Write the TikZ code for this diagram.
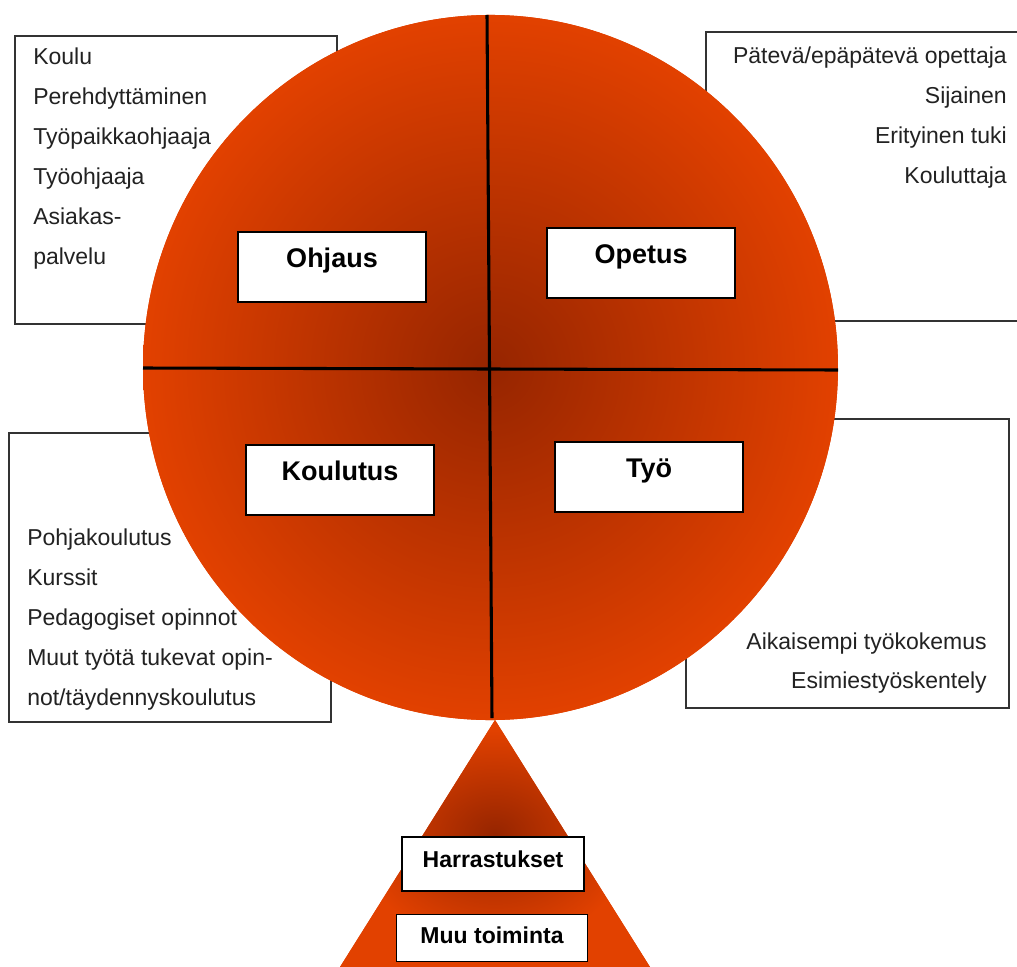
\documentclass[tikz,border=0pt]{standalone}
\usepackage{fontspec}
\setmainfont{Liberation Sans}
\definecolor{cdark}{HTML}{962500}
\definecolor{cbright}{HTML}{E24100}
\definecolor{itemgray}{HTML}{222222}
\definecolor{boxgray}{HTML}{333333}
\pgfdeclareradialshading{circshade}{\pgfpoint{0bp}{0bp}}{color(0bp)=(cdark); color(25bp)=(cbright); color(50bp)=(cbright)}
\pgfdeclareradialshading{trishade}{\pgfpoint{0bp}{2bp}}{color(0bp)=(cdark); color(22bp)=(cbright); color(50bp)=(cbright)}
\tikzset{
  infobox/.style={draw=boxgray, line width=1.1pt, fill=white},
  item/.style={inner sep=0pt, text=itemgray, font=\fontsize{17.25}{20}\selectfont},
  divider/.style={line width=2.3pt, black},
  lab/.style={draw=black, line width=1.4pt, fill=white, inner sep=0pt,
    font=\fontsize{20.25}{24}\selectfont\bfseries, text height=14pt, text depth=14pt,
    minimum width=141pt, minimum height=52.5pt},
  smalllab/.style={draw=black, line width=1.4pt, fill=white, inner sep=0pt,
    font=\fontsize{17.25}{20}\selectfont\bfseries}
}
\begin{document}
\begin{tikzpicture}[x=0.75pt, y=-0.75pt]
\useasboundingbox (0,0) rectangle (1017,967);
% background text boxes
\path[infobox] (15,36) rectangle (337,324);
\path[infobox] (706,32) rectangle (1030,321);
\path[infobox] (9,433) rectangle (331,722);
\path[infobox] (686,419) rectangle (1009,708);
% circle
\coordinate (c) at (490.5,367.5);
\fill[cbright] (c) ellipse [x radius=260.6pt, y radius=264.4pt];
\shade[shading=circshade] (c) ellipse [x radius=260.6pt, y radius=264.4pt];
% dividers
\coordinate (vt) at (487,15);
\coordinate (vb) at (492,718);
\coordinate (hl) at (143,368);
\coordinate (hr) at (838,370);
\draw[divider] (vt) -- (vb);
\draw[divider] (hl) -- (hr);
% triangle
\coordinate (ta) at (495,720);
\coordinate (tr) at (650,967);
\coordinate (tl) at (340,967);
\fill[cbright] (ta) -- (tr) -- (tl) -- cycle;
\shade[shading=trishade] (ta) -- (tr) -- (tl) -- cycle;
% labels in circle
\node[lab] (ohjaus) at (332,267) {Ohjaus};
\node[lab] (opetus) at (641,263) {Opetus};
\node[lab] (koulutus) at (340,480) {Koulutus};
\node[lab] (tyo) at (649,477) {Työ};
\node[smalllab, minimum width=136.5pt, minimum height=40.5pt, text height=15pt, text depth=10.5pt] (harr) at (493,864) {Harrastukset};
\node[smalllab, minimum width=143.25pt, minimum height=35.25pt, text height=16pt, text depth=8.5pt] (muu) at (492,938) {Muu toiminta};
% item texts top-left
\node[item, anchor=base west] (tl1) at (33,64) {Koulu};
\node[item, anchor=base west] (tl2) at (33,104) {Perehdyttäminen};
\node[item, anchor=base west] (tl3) at (33,144) {Työpaikkaohjaaja};
\node[item, anchor=base west] (tl4) at (33,184) {Työohjaaja};
\node[item, anchor=base west] (tl5) at (33,224) {Asiakas-};
\node[item, anchor=base west] (tl6) at (33,264) {palvelu};
% top-right
\node[item, anchor=base east] (tr1) at (1007,63) {Pätevä/epäpätevä opettaja};
\node[item, anchor=base east] (tr2) at (1007,103) {Sijainen};
\node[item, anchor=base east] (tr3) at (1007,143) {Erityinen tuki};
\node[item, anchor=base east] (tr4) at (1007,183) {Kouluttaja};
% bottom-left
\node[item, anchor=base west] (bl1) at (27,545) {Pohjakoulutus};
\node[item, anchor=base west] (bl2) at (27,585) {Kurssit};
\node[item, anchor=base west] (bl3) at (27,625) {Pedagogiset opinnot};
\node[item, anchor=base west] (bl4) at (27,665) {Muut työtä tukevat opin-};
\node[item, anchor=base west] (bl5) at (27,705) {not/täydennyskoulutus};
% bottom-right
\node[item, anchor=base east] (br1) at (987,649) {Aikaisempi työkokemus};
\node[item, anchor=base east] (br2) at (987,688) {Esimiestyöskentely};
\end{tikzpicture}
\end{document}
